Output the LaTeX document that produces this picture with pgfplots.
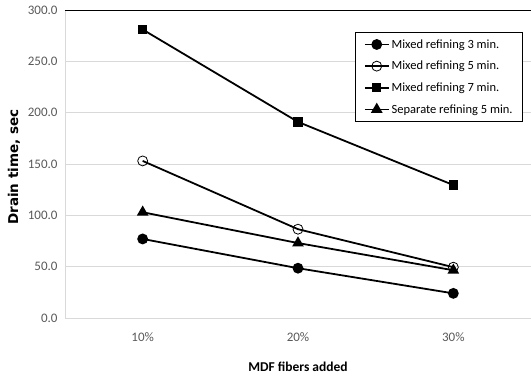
\documentclass[border=0pt]{standalone}
\usepackage{pgfplots}
\pgfplotsset{compat=1.18}
\usepackage{fontspec}
\setmainfont{Carlito}
\newfontfamily\dejabold{DejaVu Sans}
\definecolor{ticklab}{HTML}{595959}
\definecolor{gridc}{HTML}{D9D9D9}
\begin{document}
\begin{tikzpicture}
\begin{axis}[
  name=ax,
  scale only axis,
  width=466bp, height=308bp,
  xmin=-0.5, xmax=2.5,
  ymin=0, ymax=300,
  xtick={0,1,2},
  xticklabels={10\%,20\%,30\%},
  ytick={0,50,...,300},
  major tick length=0pt,
  axis x line*=bottom,
  axis y line*=left,
  axis line style={gridc, line width=1pt},
  ymajorgrids,
  grid style={gridc, line width=1pt},
  /pgf/number format/assume math mode=true,
  /pgf/number format/fixed,
  /pgf/number format/fixed zerofill,
  /pgf/number format/precision=1,
  tick label style={font=\fontsize{13bp}{15bp}\selectfont, text=ticklab},
  xticklabel style={yshift=-11bp},
  yticklabel style={xshift=-4bp},
  xlabel={\bfseries MDF fibers added},
  xlabel style={font=\fontsize{13.5bp}{15bp}\selectfont, yshift=-14bp},
  ylabel={\dejabold\bfseries Drain time, sec},
  ylabel style={font=\fontsize{13.5bp}{15bp}\selectfont, yshift=1bp, xshift=-3bp},
  extra y ticks={300},
  extra y tick labels={},
  extra tick style={grid style={black, line width=1pt}},
  legend style={at={(1,1)}, anchor=north east, xshift=-8bp, yshift=-22bp,
    draw=black, line width=0.8pt, font=\fontsize{12.5bp}{14bp}\selectfont,
    row sep=7.5bp, inner xsep=8bp, inner ysep=5bp},
  legend image code/.code={\draw[mark repeat=2,mark phase=2] plot coordinates {(0bp,0bp) (12bp,0bp) (24bp,0bp)};},
  legend cell align=left,
  every axis plot/.append style={line width=1.8pt, black},
]
\addplot[mark=*, mark size=4.5pt, mark options={fill=black}] coordinates {(0,77) (1,48.5) (2,24)};
\addlegendentry{Mixed refining 3 min.}
\addplot[mark=o, mark size=5pt, mark options={fill=white, line width=0.8pt}] coordinates {(0,153) (1,86.5) (2,49.5)};
\addlegendentry{Mixed refining 5 min.}
\addplot[mark=square*, mark size=3.8pt, mark options={fill=black}] coordinates {(0,281) (1,191) (2,129.5)};
\addlegendentry{Mixed refining 7 min.}
\addplot[mark=triangle*, mark size=5pt, mark options={fill=black}] coordinates {(0,103) (1,73) (2,46.5)};
\addlegendentry{Separate refining 5 min.}
\end{axis}
\pgfresetboundingbox
\path ([shift={(-65bp,-60bp)}]ax.south west) rectangle ([shift={(0bp,10bp)}]ax.north east);
\end{tikzpicture}
\end{document}
